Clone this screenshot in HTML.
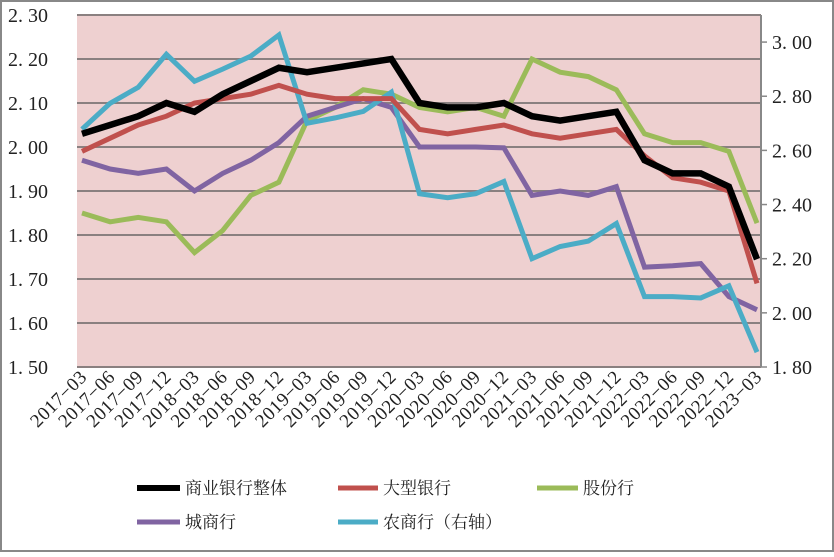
<!DOCTYPE html>
<html><head><meta charset="utf-8"><style>
body{margin:0;background:#fff}
svg text{font-family:"Liberation Serif","Noto Serif CJK SC",serif;fill:#222}
</style></head><body>
<svg id="c" width="834" height="552" xmlns="http://www.w3.org/2000/svg">
<rect x="1" y="1" width="832" height="550" fill="#fff" stroke="#888" stroke-width="2"/>
<rect x="77" y="15" width="684" height="352" fill="#eed0d0"/>
<g id="grid"></g><g id="axes"></g><g id="series"></g>
<g font-size="17">
<line x1="137" y1="488" x2="180" y2="488" stroke="#000" stroke-width="6"/>
<text x="185" y="494">商业银行整体</text>
<line x1="338" y1="488" x2="378" y2="488" stroke="#c0504d" stroke-width="5"/>
<text x="383" y="494">大型银行</text>
<line x1="537" y1="488" x2="578" y2="488" stroke="#9bbb59" stroke-width="5"/>
<text x="583" y="494">股份行</text>
<line x1="137" y1="522" x2="180" y2="522" stroke="#8064a2" stroke-width="5"/>
<text x="185" y="528">城商行</text>
<line x1="338" y1="522" x2="378" y2="522" stroke="#4bacc6" stroke-width="5"/>
<text x="383" y="528">农商行（右轴）</text>
</g>
</svg>
<script>
const categories=["2017-03","2017-06","2017-09","2017-12","2018-03","2018-06","2018-09","2018-12","2019-03","2019-06","2019-09","2019-12","2020-03","2020-06","2020-09","2020-12","2021-03","2021-06","2021-09","2021-12","2022-03","2022-06","2022-09","2022-12","2023-03"];
const overall=[2.03,2.05,2.07,2.10,2.08,2.12,2.15,2.18,2.17,2.18,2.19,2.20,2.10,2.09,2.09,2.10,2.07,2.06,2.07,2.08,1.97,1.94,1.94,1.91,1.745];
const large=[1.99,2.02,2.05,2.07,2.10,2.11,2.12,2.14,2.12,2.11,2.11,2.11,2.04,2.03,2.04,2.05,2.03,2.02,2.03,2.04,1.98,1.93,1.92,1.90,1.69];
const joint=[1.85,1.83,1.84,1.83,1.76,1.81,1.89,1.92,2.06,2.09,2.13,2.12,2.09,2.08,2.09,2.07,2.20,2.17,2.16,2.13,2.03,2.01,2.01,1.99,1.827];
const city=[1.97,1.95,1.94,1.95,1.90,1.94,1.97,2.01,2.07,2.09,2.11,2.09,2.00,2.00,2.00,1.998,1.89,1.90,1.89,1.91,1.727,1.73,1.735,1.66,1.63];
const rural=[2.678,2.774,2.833,2.955,2.855,2.90,2.948,3.026,2.70,2.72,2.744,2.815,2.44,2.425,2.44,2.485,2.20,2.245,2.265,2.33,2.06,2.06,2.055,2.10,1.855];
const leftTicks=["1. 50","1. 60","1. 70","1. 80","1. 90","2. 00","2. 10","2. 20","2. 30"];
const rightTicks=["1. 80","2. 00","2. 20","2. 40","2. 60","2. 80","3. 00"];
const NS="http://www.w3.org/2000/svg";
const L=77,R=761,T=15,B=367;
const x=i=>82+i*(757-82)/(categories.length-1);
const yL=v=>B-(v-1.5)/(2.3-1.5)*(B-T);
const yR=v=>B-(v-1.8)/(3.1-1.8)*(B-T);
function mk(tag,attrs,parent){const e=document.createElementNS(NS,tag);for(const k in attrs)e.setAttribute(k,attrs[k]);parent.appendChild(e);return e;}
const grid=document.getElementById('grid'),axes=document.getElementById('axes'),ser=document.getElementById('series');
leftTicks.forEach((t,i)=>{const v=1.5+i*0.1,y=yL(v);
 const g=mk('line',{x1:L,x2:R,y1:y,y2:y,stroke:'#8a8080','stroke-width':2},grid);
 
 
 const tx=mk('text',{x:8,y:y+7,'font-size':20},axes);tx.textContent=t;
 
 });
const ra=mk('line',{x1:R,x2:R,y1:T,y2:B,stroke:'#888','stroke-width':2},axes);


rightTicks.forEach((t,i)=>{const v=1.8+i*0.2,y=yR(v);
 const tk=mk('line',{x1:R,x2:R+6,y1:y,y2:y,stroke:'#888','stroke-width':1.5},axes);
 
 
 const tx=mk('text',{x:772,y:y+7,'font-size':20},axes);tx.textContent=t;
 
 });
categories.forEach((c,i)=>{const tx=mk('text',{x:x(i)+6,y:378,'font-size':19,'text-anchor':'end','letter-spacing':'0.5',transform:`rotate(-45 ${x(i)+6} 378)`},axes);tx.textContent=c.replace('-','−');
 
 });
function line(data,yf,color,w,name){const p=mk('polyline',{points:data.map((v,i)=>x(i)+','+yf(v)).join(' '),fill:'none',stroke:color,'stroke-width':w,'stroke-linejoin':'miter'},ser);
 
 }
line(joint,yL,'#9bbb59',5,'series-joint-stock');
line(city,yL,'#8064a2',5,'series-city');
line(rural,yR,'#4bacc6',5,'series-rural');
line(large,yL,'#c0504d',5,'series-large');
line(overall,yL,'#000',6.5,'series-overall');
</script>
</body></html>
